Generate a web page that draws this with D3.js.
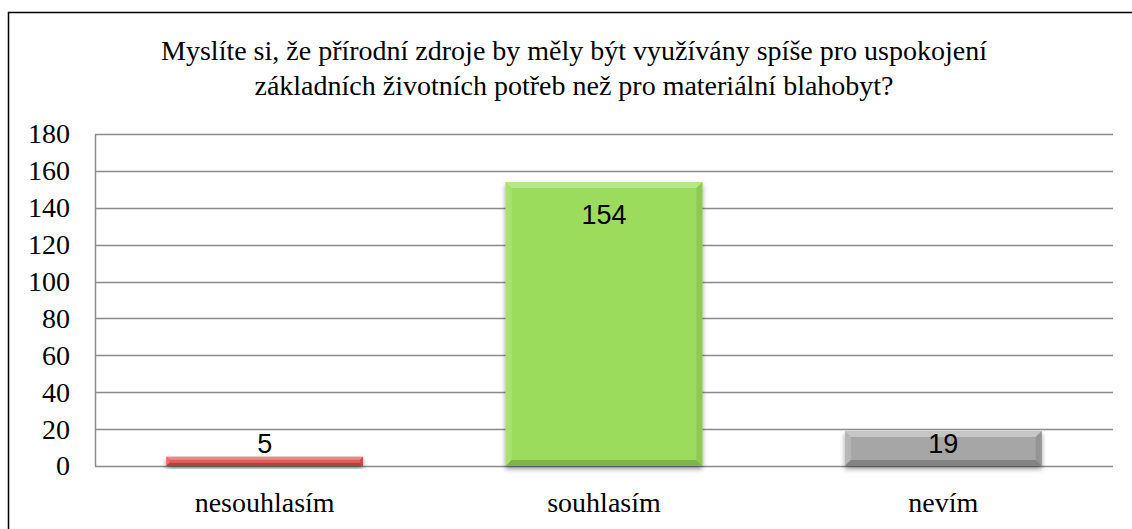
<!DOCTYPE html>
<html>
<head>
<meta charset="utf-8">
<script src="https://cdn.jsdelivr.net/npm/d3@7"></script>
</head>
<body style="margin:0">
<div id="chart"></div>
<script>
// data
const categories = ["nesouhlasím", "souhlasím", "nevím"];
const values = [5, 154, 19];
const yTicks = [0, 20, 40, 60, 80, 100, 120, 140, 160, 180];
const titleLines = [
    "Myslíte si, že přírodní zdroje by měly být využívány spíše pro uspokojení",
    "základních životních potřeb než pro materiální blahobyt?"
];
const barColors = [
    {base: "#df5b5b", light: "#ea8a8a", dark: "#b04242"},
    {base: "#9cdc5c", light: "#b6e88a", dark: "#7fb54c"},
    {base: "#a6a6a6", light: "#c6c6c6", dark: "#838383"}
];

const width = 1132, height = 529;
const margin = {left: 95, right: 1113, top: 134, bottom: 466};

const svg = d3.select("#chart")
    .append("svg")
    .attr("width", width)
    .attr("height", height);

// chart border
svg.append("rect")
    .attr("x", 8.5)
    .attr("y", 12.5)
    .attr("width", 1140)
    .attr("height", 540)
    .attr("fill", "white")
    .attr("stroke", "black")
    .attr("stroke-width", 1.5);

const x = d3.scaleBand()
    .domain(categories)
    .range([margin.left, margin.right])
    .paddingInner(0.42)
    .paddingOuter(0.21);

const y = d3.scaleLinear()
    .domain([0, 180])
    .range([margin.bottom, margin.top]);

// every serif text goes through here
function serifText(sel, size) {
    sel.attr("font-family", "Liberation Serif")
        .style("font-family", "Liberation Serif")
        .attr("font-size", size)
        .attr("fill", "black");
}

// title
svg.append("g")
    .selectAll("text")
    .data(titleLines)
    .join("text")
    .call(serifText, 28)
    .attr("x", 574)
    .attr("y", (d, i) => 60 + i * 35)
    .attr("text-anchor", "middle")
    .text(d => d);

// gridlines
svg.append("g")
    .selectAll("line")
    .data(yTicks)
    .join("line")
    .attr("x1", margin.left)
    .attr("x2", margin.right)
    .attr("y1", d => Math.round(y(d)) + 0.5)
    .attr("y2", d => Math.round(y(d)) + 0.5)
    .attr("stroke", "#8a8a8a")
    .attr("stroke-width", 1.5);

// y axis
const yAxis = svg.append("g")
    .attr("transform", `translate(${margin.left},0)`)
    .call(d3.axisLeft(y).tickValues(yTicks).tickSize(0).tickPadding(25));
yAxis.call(serifText, 28);
yAxis.select(".domain")
    .attr("stroke", "#8a8a8a")
    .attr("stroke-width", 1.5);
yAxis.selectAll("text").call(serifText, 28);

// x axis labels
svg.append("g")
    .selectAll("text")
    .data(categories)
    .join("text")
    .call(serifText, 28)
    .attr("x", d => x(d) + x.bandwidth() / 2)
    .attr("y", 512)
    .attr("text-anchor", "middle")
    .text(d => d);

// shadow filter
const defs = svg.append("defs");
const filter = defs.append("filter")
    .attr("id", "shadow")
    .attr("x", "-10%").attr("y", "-10%")
    .attr("width", "120%").attr("height", "140%");
filter.append("feGaussianBlur").attr("in", "SourceAlpha").attr("stdDeviation", 2.5);
filter.append("feOffset").attr("dx", 0).attr("dy", 3).attr("result", "blur");
filter.append("feComponentTransfer").append("feFuncA").attr("type", "linear").attr("slope", 0.4);
const merge = filter.append("feMerge");
merge.append("feMergeNode");
merge.append("feMergeNode").attr("in", "SourceGraphic");

// bars with bevel
const bars = svg.append("g");
categories.forEach((cat, i) => {
    const c = barColors[i];
    const x0 = x(cat), x1 = x(cat) + x.bandwidth();
    const y0 = y(values[i]), y1 = y(0);
    const b = Math.min(6, (y1 - y0) / 3);
    const g = bars.append("g").attr("filter", "url(#shadow)");

    g.append("rect")
        .attr("x", x0)
        .attr("y", y0)
        .attr("width", x1 - x0)
        .attr("height", y1 - y0)
        .attr("fill", c.base);

    // top bevel
    g.append("polygon")
        .attr("points", [[x0, y0], [x1, y0], [x1 - b, y0 + b], [x0 + b, y0 + b]].join(" "))
        .attr("fill", c.light);
    // left bevel
    g.append("polygon")
        .attr("points", [[x0, y0], [x0 + b, y0 + b], [x0 + b, y1 - b], [x0, y1]].join(" "))
        .attr("fill", c.light)
        .attr("opacity", 0.5);
    // right bevel
    g.append("polygon")
        .attr("points", [[x1, y0], [x1, y1], [x1 - b, y1 - b], [x1 - b, y0 + b]].join(" "))
        .attr("fill", c.dark)
        .attr("opacity", 0.5);
    // bottom bevel
    g.append("polygon")
        .attr("points", [[x0, y1], [x0 + b, y1 - b], [x1 - b, y1 - b], [x1, y1]].join(" "))
        .attr("fill", c.dark);
});

// value labels
svg.append("g")
    .selectAll("text")
    .data(values)
    .join("text")
    .attr("font-family", "Liberation Sans")
    .attr("x", (d, i) => x(categories[i]) + x.bandwidth() / 2)
    .attr("y", d => Math.min(y(d) + 32, y(0) - 23) + 10)
    .attr("text-anchor", "middle")
    .attr("font-size", 27)
    .attr("fill", "black")
    .text(d => d);
</script>
</body>
</html>
